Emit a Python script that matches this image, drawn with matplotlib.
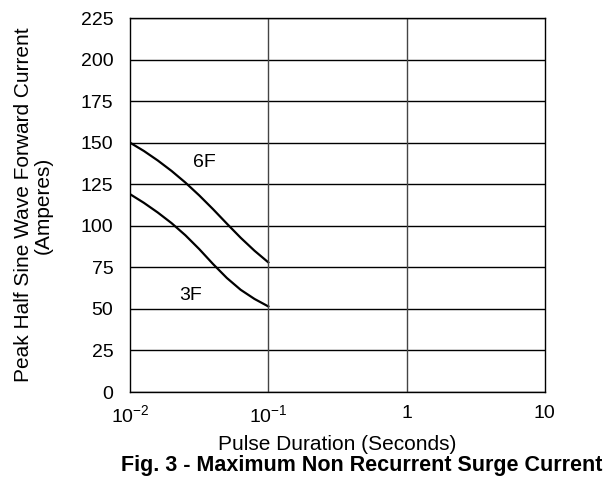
import matplotlib.pyplot as plt
import numpy as np

plt.rcParams['font.family'] = ['Liberation Sans', 'DejaVu Sans']
plt.rcParams['mathtext.fontset'] = 'custom'
plt.rcParams['mathtext.rm'] = 'Liberation Sans'

# Curves (log10 of pulse duration in seconds, current in amperes)
log_t = [-2.0, -1.9, -1.8, -1.7, -1.6, -1.5, -1.4, -1.3, -1.2, -1.1, -1.0]
amps_6f = [150, 145, 139.3, 133, 126, 118.3, 110, 101.3, 92.8, 85, 78]
amps_3f = [119, 113.8, 108, 101.6, 94.3, 86, 77, 68.6, 61.5, 56, 51.5]

x_ticks = [0.01, 0.1, 1, 10]
x_tick_labels = ["$\\mathregular{10^{-2}}$", "$\\mathregular{10^{-1}}$", "1", "10"]
y_ticks = list(range(0, 226, 25))

fig = plt.figure(figsize=(6.08, 4.87), dpi=100)
ax = fig.add_axes([0.214, 0.195, 0.682, 0.768])

ax.plot(10 ** np.array(log_t), amps_6f, color="black", lw=1.6)
ax.plot(10 ** np.array(log_t), amps_3f, color="black", lw=1.6)
ax.text(10 ** -1.46, 138, "6F", fontsize=14, ha="center", va="center")
ax.text(10 ** -1.56, 58, "3F", fontsize=14, ha="center", va="center")

ax.set_xscale("log")
ax.set_xlim(0.01, 10)
ax.set_ylim(0, 225)
ax.set_xticks(x_ticks)
ax.set_xticklabels(x_tick_labels)
ax.minorticks_off()
ax.set_yticks(y_ticks)
ax.tick_params(length=0, labelsize=14)
ax.tick_params(axis="y", pad=12)
ax.tick_params(axis="x", pad=9)

for y in y_ticks:
    ax.axhline(y, color="black", lw=1)
for x in x_ticks[1:-1]:
    ax.axvline(x, color="#444444", lw=1)
for s in ax.spines.values():
    s.set_linewidth(1)

ax.set_xlabel("Pulse Duration (Seconds)", fontsize=15, labelpad=6)
ax.set_ylabel("Peak Half Sine Wave Forward Current\n(Amperes)", fontsize=15,
              labelpad=20, linespacing=1.1)
fig.text(0.595, 0.045, "Fig. 3 - Maximum Non Recurrent Surge Current",
         fontsize=15.5, fontweight="bold", ha="center", va="center")

fig.savefig("out.png", dpi=100)
